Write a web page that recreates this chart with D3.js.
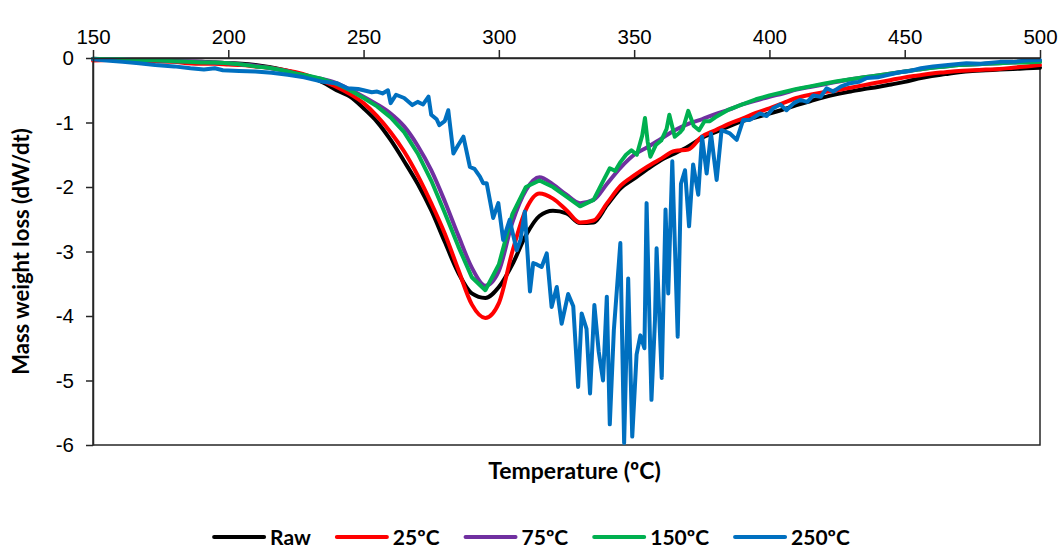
<!DOCTYPE html>
<html lang="en">
<head>
<meta charset="UTF-8">
<title>DTG curves</title>
<script src="https://cdn.jsdelivr.net/npm/d3@7"></script>
<style>
  body { margin: 0; background: #fff; }
  svg { font-family: Lato, "Open Sans", sans-serif; }
</style>
</head>
<body>
<div id="chart"></div>
<script>
// temperature grid (ºC) for the smooth curves
var temps = [150,155,160,165,170,175,180,185,190,195,200,205,210,215,220,225,230,235,240,245,
  250,255,260,265,270,275,280,285,290,295,300,305,310,315,320,325,330,335,340,345,
  350,355,360,365,370,375,380,385,390,395,400,405,410,415,420,425,430,435,440,445,
  450,455,460,465,470,475,480,485,490,495,500];

var raw = [-0.02,-0.03,-0.03,-0.04,-0.04,-0.05,-0.05,-0.06,-0.06,-0.07,-0.08,-0.09,-0.11,-0.14,-0.18,-0.23,-0.29,-0.38,-0.50,-0.60,
  -0.78,-0.99,-1.27,-1.60,-1.95,-2.36,-2.85,-3.33,-3.65,-3.72,-3.55,-3.20,-2.75,-2.45,-2.37,-2.41,-2.56,-2.55,-2.28,-2.02,
  -1.87,-1.72,-1.58,-1.48,-1.37,-1.24,-1.15,-1.06,-0.98,-0.92,-0.86,-0.80,-0.73,-0.67,-0.61,-0.56,-0.52,-0.48,-0.45,-0.41,
  -0.37,-0.32,-0.28,-0.25,-0.22,-0.20,-0.19,-0.18,-0.17,-0.16,-0.15];

var c25 = [-0.04,-0.03,-0.03,-0.04,-0.05,-0.05,-0.06,-0.08,-0.09,-0.09,-0.10,-0.11,-0.13,-0.15,-0.18,-0.22,-0.28,-0.36,-0.45,-0.56,
  -0.70,-0.90,-1.15,-1.45,-1.82,-2.25,-2.72,-3.28,-3.82,-4.03,-3.80,-3.00,-2.35,-2.10,-2.18,-2.36,-2.55,-2.52,-2.25,-1.98,
  -1.82,-1.68,-1.56,-1.44,-1.42,-1.22,-1.12,-1.02,-0.94,-0.85,-0.78,-0.70,-0.62,-0.57,-0.53,-0.50,-0.46,-0.42,-0.38,-0.34,
  -0.30,-0.27,-0.24,-0.22,-0.20,-0.19,-0.18,-0.17,-0.15,-0.13,-0.11];

var c75 = [-0.01,-0.02,-0.02,-0.03,-0.03,-0.04,-0.05,-0.05,-0.06,-0.07,-0.08,-0.10,-0.12,-0.15,-0.19,-0.24,-0.29,-0.33,-0.39,-0.49,
  -0.60,-0.72,-0.86,-1.06,-1.36,-1.74,-2.22,-2.75,-3.25,-3.53,-3.30,-2.55,-2.05,-1.85,-1.96,-2.12,-2.25,-2.20,-1.95,-1.70,
  -1.50,-1.38,-1.25,-1.12,-1.02,-0.95,-0.87,-0.80,-0.72,-0.66,-0.60,-0.55,-0.49,-0.45,-0.41,-0.37,-0.33,-0.30,-0.27,-0.24,
  -0.21,-0.18,-0.15,-0.13,-0.11,-0.10,-0.09,-0.08,-0.07,-0.06,-0.06];

var temps150 = [150,155,160,165,170,175,180,185,190,195,200,205,210,215,220,225,230,235,240,245,
  250,255,260,265,270,275,280,285,290,295,300,305,310,315,320,325,330,335,338,341,
  343,345,347,349,351,353,354,355,356,358,360,362,363,365,367,368,370,372,374,376,
  378,380,385,390,395,400,405,410,415,420,425,430,435,440,445,450,455,460,465,470,
  475,480,485,490,495,500];
var c150 = [-0.01,-0.02,-0.02,-0.03,-0.03,-0.04,-0.05,-0.06,-0.07,-0.07,-0.08,-0.10,-0.13,-0.15,-0.19,-0.24,-0.28,-0.33,-0.40,-0.50,
  -0.62,-0.75,-0.92,-1.15,-1.48,-1.90,-2.40,-2.92,-3.40,-3.60,-3.20,-2.42,-2.00,-1.90,-2.00,-2.15,-2.30,-2.20,-1.95,-1.71,
  -1.75,-1.61,-1.50,-1.43,-1.50,-1.20,-0.93,-1.30,-1.53,-1.35,-1.28,-1.10,-0.88,-1.22,-1.15,-1.10,-0.82,-1.05,-1.12,-0.98,
  -0.98,-0.92,-0.80,-0.72,-0.64,-0.58,-0.53,-0.48,-0.44,-0.40,-0.36,-0.33,-0.30,-0.27,-0.24,-0.21,-0.18,-0.15,-0.13,-0.11,
  -0.10,-0.09,-0.08,-0.07,-0.07,-0.06];

var temps250 = [150,155,161,167,173,180,186,191,195,198,204,210,216,222,228,235,240,244,248,250,
  253,255,257,259,260,262,265,268,270,272,274,275,277,278,280,281.3,283.2,285,286.9,289.3,
  291,293,294.2,295.5,297.9,299.8,301.6,304,306.6,308,309.6,311.5,312.7,314,315.8,317.7,319.5,321.4,323.2,325.6,
  327.5,329.3,330.6,332.4,333.7,335.3,336.9,338.5,339.9,341,342.5,344.9,346.3,347.8,349.3,350.9,352.3,353.8,354.6,356.4,
  357.7,358.3,360.2,361.6,362.6,364.1,366.1,367.3,368.8,370.3,371.8,373.7,375.1,376.8,378.4,380.5,382.3,385.4,387.9,390.3,
  392.8,396.5,399,401.4,404,406.3,409,411.3,414,416.2,419,421.1,423.6,426.5,429.8,433,436,440,444,448.2,
  452,456,460.5,466,472.8,478,485.2,490,495,500];
var c250 = [-0.02,-0.04,-0.06,-0.08,-0.11,-0.13,-0.16,-0.18,-0.16,-0.19,-0.20,-0.21,-0.23,-0.26,-0.30,-0.37,-0.39,-0.47,-0.48,-0.50,
  -0.53,-0.52,-0.55,-0.50,-0.70,-0.57,-0.62,-0.73,-0.68,-0.72,-0.60,-0.88,-0.95,-1.04,-0.98,-0.81,-1.48,-1.35,-1.22,-1.69,
  -1.72,-1.84,-1.94,-1.94,-2.48,-2.25,-2.82,-2.51,-2.98,-2.82,-2.38,-3.62,-3.18,-3.20,-3.24,-3.03,-3.86,-3.55,-4.12,-3.66,
  -3.85,-5.10,-3.96,-4.20,-5.20,-3.83,-4.55,-5.00,-3.70,-5.68,-4.22,-2.87,-5.97,-3.42,-5.87,-4.60,-4.30,-4.50,-2.25,-5.30,
  -4.06,-2.95,-4.96,-2.35,-3.65,-1.60,-4.32,-1.95,-1.74,-2.61,-1.65,-2.12,-1.22,-1.79,-1.17,-1.89,-1.12,-1.17,-1.27,-0.96,
  -0.96,-0.86,-0.90,-0.78,-0.72,-0.81,-0.70,-0.65,-0.68,-0.58,-0.60,-0.47,-0.52,-0.44,-0.39,-0.37,-0.31,-0.30,-0.26,-0.22,
  -0.20,-0.16,-0.13,-0.11,-0.08,-0.09,-0.06,-0.06,-0.04,-0.03];

var seriesNames = ["Raw", "25ºC", "75ºC", "150ºC", "250ºC"];
var seriesColors = ["#000000", "#ff0000", "#7030a0", "#00b050", "#0070c0"];
var xTicks = [150, 200, 250, 300, 350, 400, 450, 500];
var yTicks = [0, -1, -2, -3, -4, -5, -6];

var series = [
  { x: temps, y: raw, smooth: true },
  { x: temps, y: c25, smooth: true },
  { x: temps, y: c75, smooth: true },
  { x: temps150, y: c150, smooth: false },
  { x: temps250, y: c250, smooth: false }
];

var width = 1060, height = 547;
var margin = { top: 58, right: 20, bottom: 102, left: 93 };

var svg = d3.select("#chart").append("svg")
  .attr("width", width)
  .attr("height", height);

var x = d3.scaleLinear().domain([150, 500]).range([margin.left, width - margin.right]);
var y = d3.scaleLinear().domain([-6, 0]).range([height - margin.bottom, margin.top]);

// plot frame
svg.append("rect")
  .attr("x", x(150)).attr("y", y(0))
  .attr("width", x(500) - x(150)).attr("height", y(-6) - y(0))
  .attr("fill", "none").attr("stroke", "#262626").attr("stroke-width", 1.5);

series.forEach(function(s, i) {
  var pts = s.x.map(function(t, j) { return [t, s.y[j]]; });
  var line = d3.line()
    .x(function(d) { return x(d[0]); })
    .y(function(d) { return y(d[1]); })
    .curve(s.smooth ? d3.curveMonotoneX : d3.curveLinear);
  svg.append("path")
    .datum(pts)
    .attr("d", line)
    .attr("fill", "none")
    .attr("stroke", seriesColors[i])
    .attr("stroke-width", 4)
    .attr("stroke-linejoin", "round")
    .attr("stroke-linecap", "round");
});

// axes
var xAxis = svg.append("g")
  .attr("transform", "translate(0," + y(0) + ")")
  .call(d3.axisTop(x).tickValues(xTicks).tickSize(8).tickPadding(6).tickSizeOuter(0));
var yAxis = svg.append("g")
  .attr("transform", "translate(" + x(150) + ",0)")
  .call(d3.axisLeft(y).tickValues(yTicks).tickSize(7).tickPadding(12).tickSizeOuter(0)
    .tickFormat(function(d) { return d === 0 ? "0" : "-" + Math.abs(d); }));

[xAxis, yAxis].forEach(function(g) {
  g.select(".domain").attr("stroke", "#262626").attr("stroke-width", 1.5);
  g.selectAll(".tick line").attr("stroke", "#262626").attr("stroke-width", 1.5);
  g.selectAll(".tick text").attr("fill", "#000").style("font-size", "20.5px");
});

// axis titles
svg.append("text")
  .attr("x", (x(150) + x(500)) / 2 + 8).attr("y", 479)
  .attr("text-anchor", "middle")
  .style("font-size", "23px").style("font-weight", "bold")
  .text("Temperature (ºC)");

svg.append("text")
  .attr("transform", "translate(29," + (y(-3)) + ") rotate(-90)")
  .attr("text-anchor", "middle")
  .style("font-size", "22px").style("font-weight", "bold")
  .text("Mass weight loss (dW/dt)");

// legend
var legend = svg.append("g");
var lx = 0;
seriesNames.forEach(function(name, i) {
  var g = legend.append("g").attr("transform", "translate(" + lx + ",0)");
  g.append("line").attr("x1", 0).attr("x2", 50).attr("y1", 0).attr("y2", 0)
    .attr("stroke", seriesColors[i]).attr("stroke-width", 4).attr("stroke-linecap", "round");
  var t = g.append("text").attr("x", 56).attr("y", 7.5)
    .style("font-size", "21px").style("font-weight", "bold").text(name);
  lx += 56 + t.node().getComputedTextLength() + 26;
});
legend.attr("transform", "translate(" + ((width - (lx - 26)) / 2 + 2) + ",537)");
</script>
</body>
</html>
